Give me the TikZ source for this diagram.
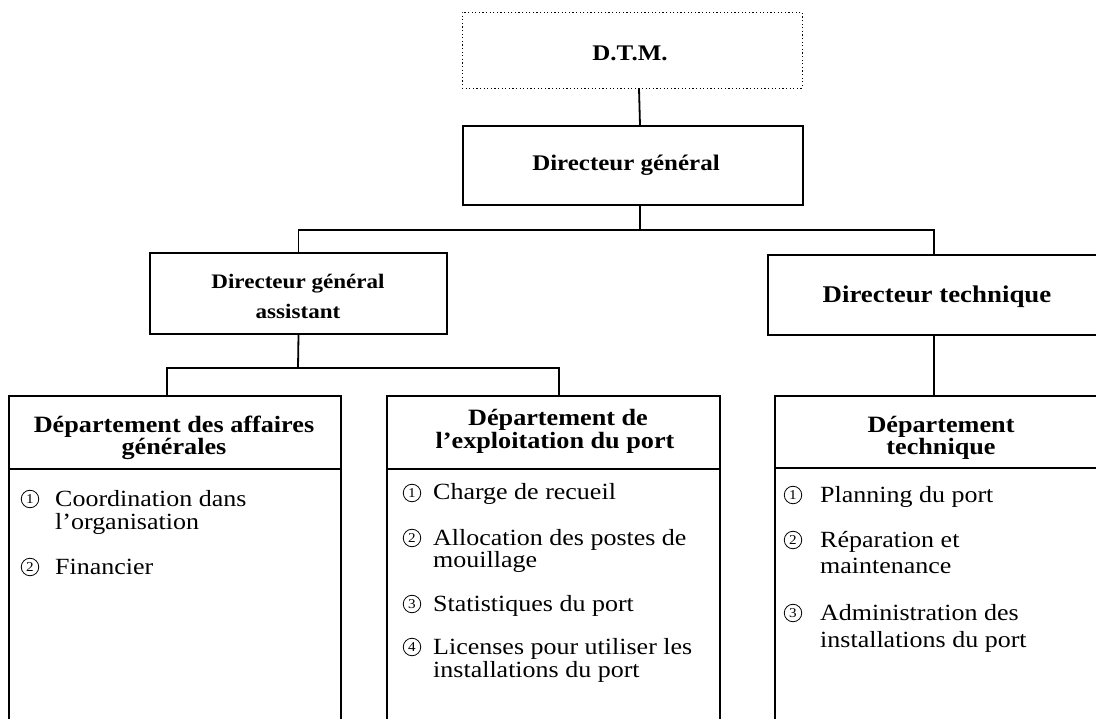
\documentclass[tikz,border=0pt]{standalone}
\usepackage{fontspec}
\setmainfont{Liberation Serif}[FakeStretch=1.12]
\begin{document}
\begin{tikzpicture}[x=1pt,y=-1pt,
  box/.style={draw=black, line width=1.8pt, inner sep=0pt, fill=none},
  dotbox/.style={draw=black, line width=0.9pt, dash pattern=on 1.2pt off 2.4pt, inner sep=0pt},
  conn/.style={draw=black, line width=1.8pt},
  head/.style={inner sep=0pt, anchor=base, font=\fontsize{23.4}{24}\selectfont\bfseries},
  item/.style={inner sep=0pt, anchor=base west, font=\fontsize{23.2}{24}\selectfont},
  num/.style={circle, draw=black, line width=0.8pt, inner sep=0pt, minimum size=17.5pt,
              anchor=center, font=\fontsize{13.5}{14}\selectfont}]
\useasboundingbox (0,0) rectangle (1096,719);
\fill[white] (0,0) rectangle (1096,719);

% boxes
\node[dotbox, minimum width=340pt, minimum height=76pt] (dtm) at (632,50) {};
\node[box, minimum width=340pt, minimum height=79pt] (dg) at (633,165.5) {};
\node[box, minimum width=297pt, minimum height=81pt] (dga) at (298.5,293.5) {};
\node[box, minimum width=332pt, minimum height=80pt] (dt) at (934,295) {};
\node[box, minimum width=332pt, minimum height=344pt] (depl) at (175,568) {};
\node[box, minimum width=333pt, minimum height=344pt] (depm) at (553.5,568) {};
\node[box, minimum width=335pt, minimum height=344pt] (depr) at (942.5,568) {};

% header dividers
\draw[conn] (depl.west |- 0,469) -- (depl.east |- 0,469);
\draw[conn] (depm.west |- 0,469) -- (depm.east |- 0,469);
\draw[conn] (depr.west |- 0,468) -- (depr.east |- 0,468);

% connectors
\coordinate (j1) at (640,230);
\coordinate (j2) at (298,368);
\draw[conn] ([xshift=7pt]dtm.south) -- ([xshift=7pt]dg.north);
\draw[conn] (dg.south -| j1) -- (j1);
\draw[conn] (dga.north) |- (j1) -| (dt.north);
\draw[conn] (dga.south) -- (j2);
\draw[conn] ([xshift=-8pt]depl.north) |- (j2) -| ([xshift=5.5pt]depm.north);
\draw[conn] (dt.south) -- (dt.south |- depr.north);

% titles
\node[head, font=\fontsize{22.3}{24}\selectfont\bfseries] (tdtm) at (630,61) {D.T.M.};
\node[head, font=\fontsize{22.3}{24}\selectfont\bfseries] (tdg) at (626,171) {Directeur général};
\node[head, font=\fontsize{20.6}{24}\selectfont\bfseries] (tdga1) at (298,289) {Directeur général};
\node[head, font=\fontsize{20.6}{24}\selectfont\bfseries] (tdga2) at (298,319) {assistant};
\node[head, font=\fontsize{24}{24}\selectfont\bfseries] (tdt) at (937,303) {Directeur technique};

\node[head] (hl1) at (174,432) {Département des affaires};
\node[head] (hl2) at (174,454) {générales};
\node[head] (hm1) at (558,426) {Département de};
\node[head] (hm2) at (555,449) {l’exploitation du port};
\node[head] (hr1) at (941,432) {Département};
\node[head] (hr2) at (941,454) {technique};

% left items
\node[num] (nl1) at (30,499) {1};
\node[item] (il1a) at (55,506) {Coordination dans};
\node[item] (il1b) at (55,529) {l’organisation};
\node[num] (nl2) at (30,567) {2};
\node[item] (il2) at (55,574) {Financier};

% middle items
\node[num] (nm1) at (412,493) {1};
\node[item] (im1) at (433,500) {Charge de recueil};
\node[num] (nm2) at (412,538) {2};
\node[item] (im2a) at (433,545) {Allocation des postes de};
\node[item] (im2b) at (433,567) {mouillage};
\node[num] (nm3) at (412,604) {3};
\node[item] (im3) at (433,611) {Statistiques du port};
\node[num] (nm4) at (412,647) {4};
\node[item] (im4a) at (433,654) {Licenses pour utiliser les};
\node[item] (im4b) at (433,677) {installations du port};

% right items
\node[num] (nr1) at (793,495) {1};
\node[item] (ir1) at (820,502) {Planning du port};
\node[num] (nr2) at (793,540) {2};
\node[item] (ir2a) at (820,547) {Réparation et};
\node[item] (ir2b) at (820,573) {maintenance};
\node[num] (nr3) at (793,613) {3};
\node[item] (ir3a) at (820,620) {Administration des};
\node[item] (ir3b) at (820,647) {installations du port};
\end{tikzpicture}
\end{document}
